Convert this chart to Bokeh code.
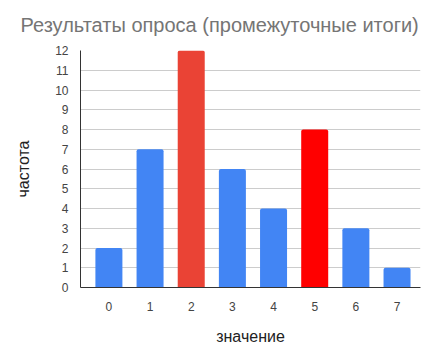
from bokeh.plotting import figure
from bokeh.models import Range1d, ColumnDataSource, FixedTicker
from bokeh.embed import file_html
from bokeh.resources import INLINE

values = [0, 1, 2, 3, 4, 5, 6, 7]
counts = [2, 7, 12, 6, 4, 8, 3, 1]
colors = ["#4285F4", "#4285F4", "#EA4335", "#4285F4", "#4285F4", "#FF0000", "#4285F4", "#4285F4"]
y_ticks = list(range(0, 13))
title_text = "Результаты опроса (промежуточные итоги)"

src = ColumnDataSource(dict(x=values, top=counts, color=colors))

FONT = "Liberation Sans"

p = figure(width=426, height=355, output_backend="svg", toolbar_location=None,
           x_range=Range1d(-0.69, 7.57), y_range=Range1d(0, 12),
           min_border_left=80, min_border_right=6, min_border_top=50, min_border_bottom=68,
           title=title_text)
p.outline_line_color = None
p.background_fill_color = "white"
p.border_fill_color = "white"

p.title.align = "left"
p.title.offset = -60
p.title.vertical_align = "top"
p.title.standoff = 26
p.title.text_font = FONT
p.title.text_font_size = "20px"
p.title.text_font_style = "normal"
p.title.text_color = "#757575"

p.vbar(x="x", top="top", width=0.656, bottom=0, color="color", source=src,
       line_color=None, border_radius=dict(top_left=2, top_right=2, bottom_right=0, bottom_left=0))

for ax in (p.xaxis[0], p.yaxis[0]):
    ax.major_tick_line_color = None
    ax.minor_tick_line_color = None
    ax.axis_line_color = "#333333"
    ax.major_label_text_font = FONT
    ax.major_label_text_font_size = "12px"
    ax.major_label_text_color = "#444444"
    ax.axis_label_text_font = FONT
    ax.axis_label_text_font_size = "16px"
    ax.axis_label_text_color = "#222222"
    ax.axis_label_text_font_style = "normal"

p.xaxis.ticker = FixedTicker(ticks=values)
p.yaxis.ticker = FixedTicker(ticks=y_ticks)
p.xaxis.axis_label = "значение"
p.yaxis.axis_label = "частота"
p.xaxis.major_label_standoff = 8
p.xaxis.axis_label_standoff = 14
p.yaxis.major_label_standoff = 6
p.yaxis.axis_label_standoff = 20

p.xgrid.grid_line_color = None
p.ygrid.grid_line_color = "#cccccc"
p.ygrid.ticker = FixedTicker(ticks=y_ticks)

open("out.html", "w").write(file_html(p, INLINE))
